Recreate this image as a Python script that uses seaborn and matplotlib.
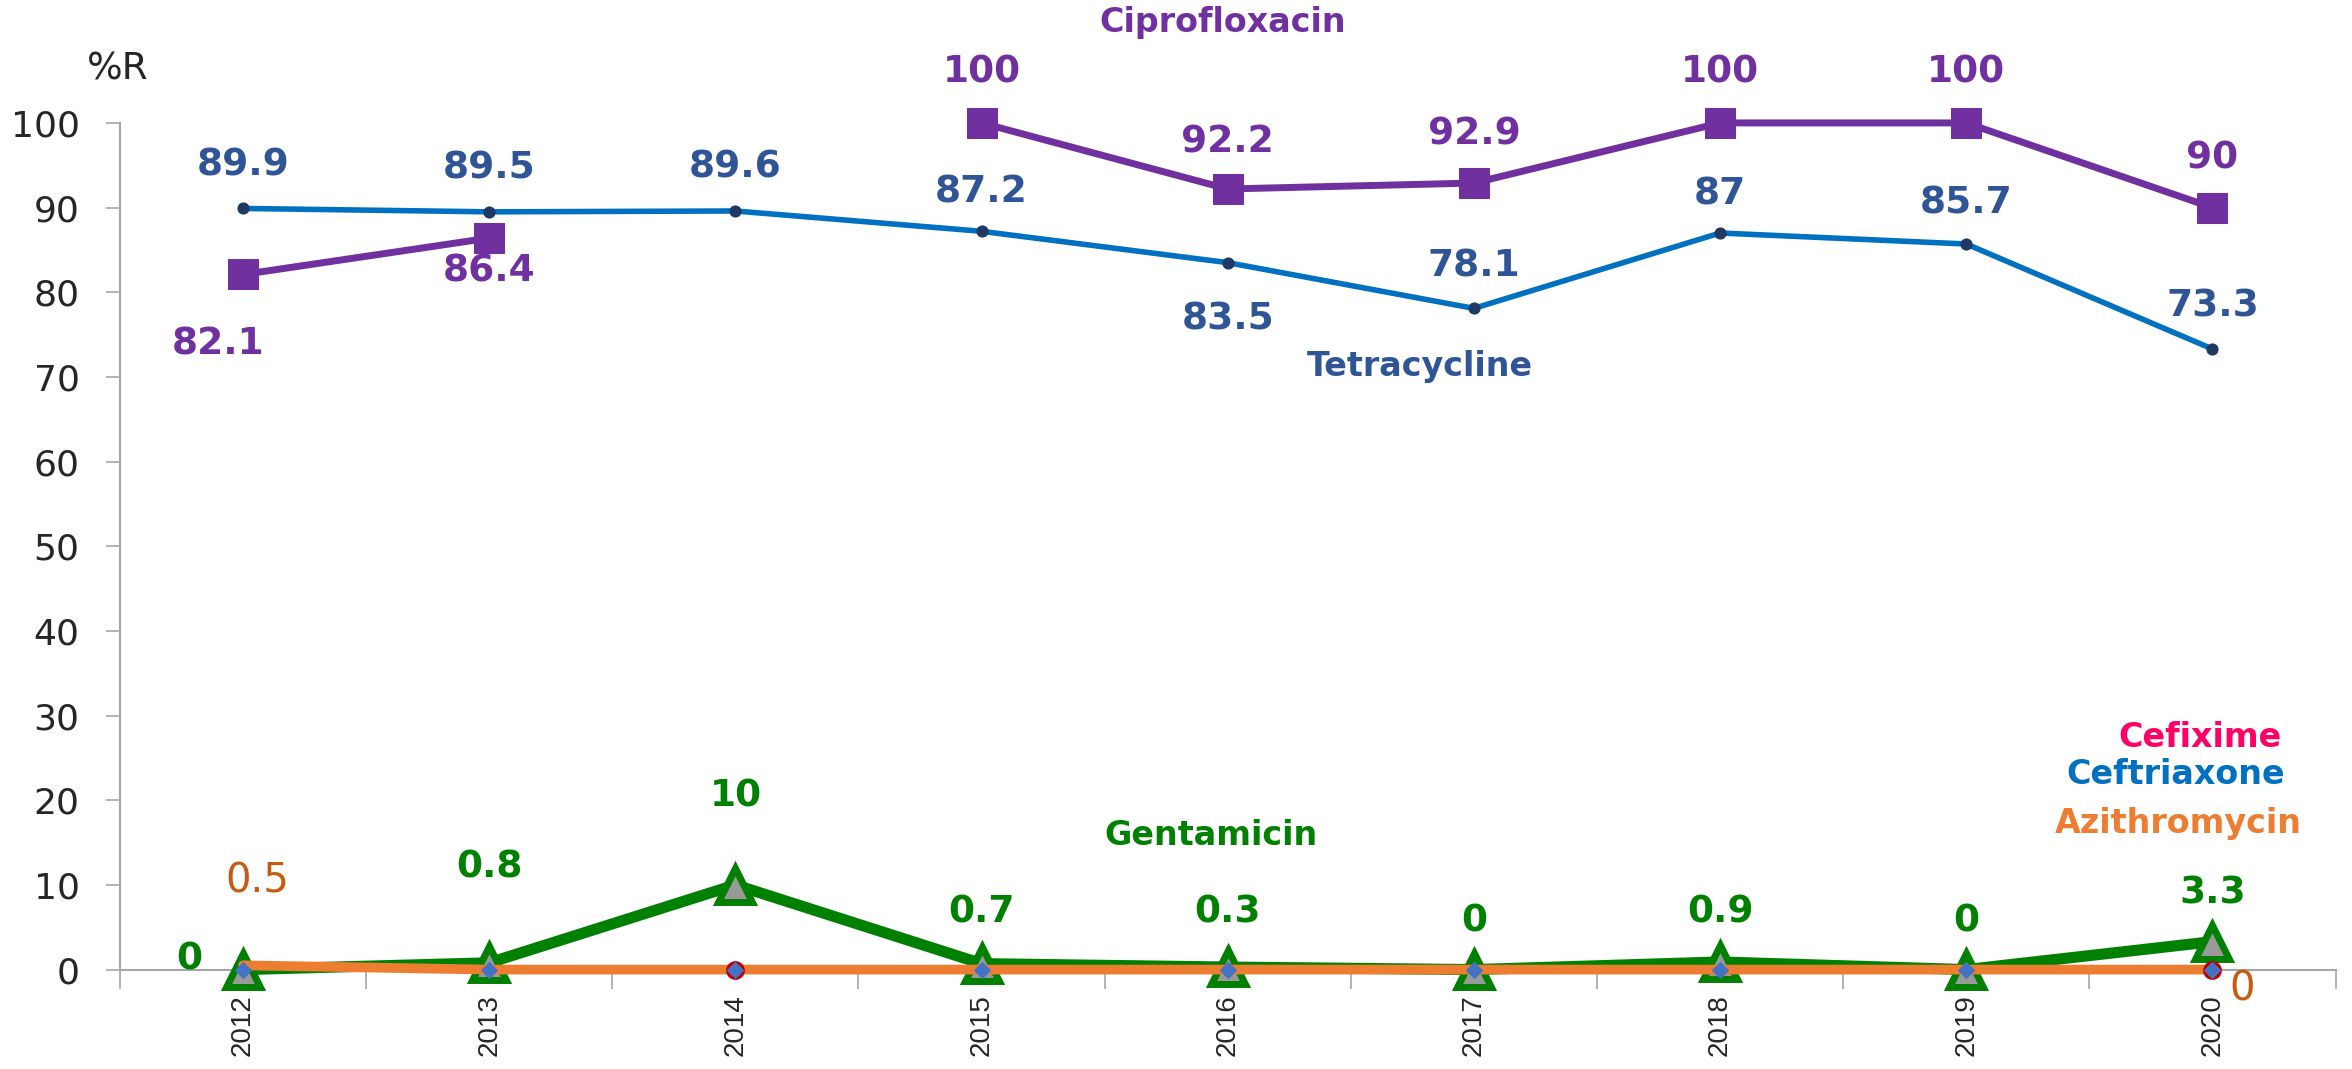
import numpy as np
import pandas as pd
import seaborn as sns
import matplotlib.pyplot as plt

years = ["2012", "2013", "2014", "2015", "2016", "2017", "2018", "2019", "2020"]
tetracycline = [89.9, 89.5, 89.6, 87.2, 83.5, 78.1, 87, 85.7, 73.3]
ciprofloxacin = [82.1, 86.4, np.nan, 100, 92.2, 92.9, 100, 100, 90]
gentamicin = [0, 0.8, 10, 0.7, 0.3, 0, 0.9, 0, 3.3]
azithromycin = [0.5, 0, 0, 0, 0, 0, 0, 0, 0]
ceftriaxone = [0, 0, 0, 0, 0, 0, 0, 0, 0]
cefixime = [0, 0, 0, 0, 0, 0, 0, 0, 0]

sns.set_theme(style="white")
plt.rcParams['font.family'] = ['DejaVu Sans Condensed', 'Liberation Sans Narrow', 'DejaVu Sans']

fig = plt.figure(figsize=(23.52, 10.69), dpi=100)
ax = fig.add_axes([0.051, 0.093, 0.942, 0.792])

x = np.arange(len(years))
df = pd.DataFrame({"x": x, "tet": tetracycline, "cip": ciprofloxacin, "gen": gentamicin,
                   "azi": azithromycin, "cro": ceftriaxone, "cfm": cefixime})

# tetracycline
sns.lineplot(data=df, x="x", y="tet", color="#0070C0", lw=4, marker="o", ms=8,
             mfc="#1F3864", mec="#1F3864", ax=ax, clip_on=False, zorder=3)

# ciprofloxacin (gap in 2014)
seg = df["cip"].isna().cumsum()
for _, part in df[df["cip"].notna()].groupby(seg[df["cip"].notna()]):
    sns.lineplot(data=part, x="x", y="cip", color="#7030A0", lw=5, marker="s", ms=22,
                 mfc="#7030A0", mec="#7030A0", ax=ax, clip_on=False, zorder=4)

# gentamicin
sns.lineplot(data=df, x="x", y="gen", color="#008000", lw=8, marker="^", ms=24,
             mfc="#999999", mec="#008000", mew=5, ax=ax, clip_on=False, zorder=4)
# azithromycin
sns.lineplot(data=df, x="x", y="azi", color="#ED7D31", lw=7, ax=ax, clip_on=False, zorder=5)
# ceftriaxone
sns.lineplot(data=df, x="x", y="cro", color="#ED7D31", lw=0, marker="D", ms=8,
             mfc="#4472C4", mec="#4472C4", ax=ax, clip_on=False, zorder=6)
# cefixime markers
ax.plot([2, 8], [cefixime[2], cefixime[8]], lw=0, marker="o", ms=11, mfc="none",
        mec="#C00000", mew=2.5, clip_on=False, zorder=5)

ax.set_xlim(-0.5, 8.5)
ax.set_ylim(0, 100)
ax.set_yticks(range(0, 101, 10))
ax.set_xticks(x)
ax.set_xticklabels(years, rotation=90, fontsize=20, family="Liberation Sans")
ax.set_xticks(np.arange(-0.5, 9, 1), minor=True)
ax.tick_params(axis="x", which="major", length=0, pad=18)
ax.tick_params(axis="x", which="minor", length=14, width=1.2, color="#A6A6A6", bottom=True)
ax.tick_params(axis="y", labelsize=26, length=10, width=1.2, color="#A6A6A6", left=True, pad=19)
ax.set_xlabel("")
ax.set_ylabel("")
for s in ["top", "right"]:
    ax.spines[s].set_visible(False)
for s in ["left", "bottom"]:
    ax.spines[s].set_color("#A6A6A6")
    ax.spines[s].set_linewidth(1.5)

fig.text(0.037, 0.935, "%R", fontsize=27, ha="left", va="center")

lab = dict(fontsize=27, fontweight="bold", ha="center", va="center")
# tetracycline labels
tet_off = [5.1, 5.1, 5.1, 4.6, -6.7, 5, 4.6, 4.8, 5]
for i, v in enumerate(tetracycline):
    ax.text(i, v + tet_off[i], f"{v:g}", color="#2F5597", **lab)
# ciprofloxacin labels
cip_off = [-8.3, -3.9, 0, 6, 5.5, 5.7, 6, 6, 5.8]
for i, v in enumerate(ciprofloxacin):
    if not np.isnan(v):
        ax.text(i - (0.1 if i == 0 else 0), v + cip_off[i], f"{v:g}", color="#7030A0", **lab)
# gentamicin labels
gen_off = [1.2, 11.2, 10.5, 6, 6.4, 5.7, 5.8, 5.7, 5.7]
for i, v in enumerate(gentamicin):
    ax.text(i - (0.22 if i == 0 else 0), v + gen_off[i], f"{v:g}", color="#008000", **lab)
# azithromycin labels
ax.text(0.06, azithromycin[0] + 9.9, f"{azithromycin[0]:g}", color="#C55A11", fontsize=29,
        ha="center", va="center")
ax.text(8.12, azithromycin[8] - 2.3, f"{azithromycin[8]:g}", color="#C55A11", fontsize=29,
        ha="center", va="center")

# series names
name = dict(fontsize=24, fontweight="bold", ha="center", va="center")
ax.text(3.98, 111.9, "Ciprofloxacin", color="#7030A0", clip_on=False, **name)
ax.text(4.78, 71.2, "Tetracycline", color="#2F5597", **name)
ax.text(3.93, 15.8, "Gentamicin", color="#008000", **name)
ax.text(7.95, 27.4, "Cefixime", color="#FF0066", **name)
ax.text(7.85, 23.0, "Ceftriaxone", color="#0070C0", **name)
ax.text(7.86, 17.3, "Azithromycin", color="#ED7D31", **name)

fig.savefig("out.png", dpi=100)
